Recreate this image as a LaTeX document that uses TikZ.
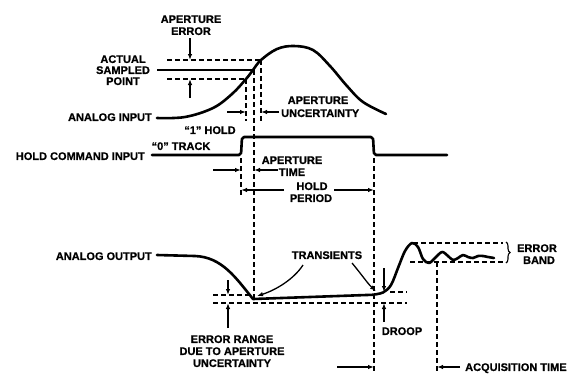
\documentclass[tikz,border=0pt]{standalone}
\usepackage{fontspec}
\setmainfont{Liberation Sans}[BoldFeatures={FakeBold=0.8}]
\usetikzlibrary{arrows.meta,decorations.pathreplacing}
\begin{document}
\begin{tikzpicture}[x=1pt,y=-1pt,
  lbl/.style={font=\fontsize{11}{12}\selectfont\bfseries, inner sep=0pt, text height=7.9pt, text depth=0pt},
  sig/.style={line width=2.6pt, line join=round, line cap=round},
  dsh/.style={line width=1.2pt, dash pattern=on 5pt off 3pt},
  arr/.style={line width=1.3pt, -{Latex[length=6pt,width=4.5pt]}},
  brc/.style={line width=1.1pt, decorate, decoration={brace, amplitude=4pt}}
]
\useasboundingbox (0,0) rectangle (569,373);

% ---------- labels ----------
\node[lbl] (aperr1) at (191,19) {APERTURE};
\node[lbl] (aperr2) at (191,31) {ERROR};
\node[lbl] (asp1) at (123,59) {ACTUAL};
\node[lbl] (asp2) at (123,70) {SAMPLED};
\node[lbl] (asp3) at (123,81) {POINT};
\node[lbl, anchor=east] (ain) at (152,117) {ANALOG INPUT};
\node[lbl] (apu1) at (318,100) {APERTURE};
\node[lbl, anchor=west] (apu2) at (281,113) {UNCERTAINTY};
\node[lbl] (hold1) at (210,130) {“1” HOLD};
\node[lbl] (track) at (181,146) {“0” TRACK};
\node[lbl, anchor=east] (hci) at (145,156) {HOLD COMMAND INPUT};
\node[lbl] (apt1) at (292,160) {APERTURE};
\node[lbl] (apt2) at (292,172) {TIME};
\node[lbl] (hp1) at (312,186) {HOLD};
\node[lbl] (hp2) at (311,198) {PERIOD};
\node[lbl, anchor=east] (aout) at (152,256) {ANALOG OUTPUT};
\node[lbl] (trans) at (327,255) {TRANSIENTS};
\node[lbl] (er1) at (232,339) {ERROR RANGE};
\node[lbl] (er2) at (232,351) {DUE TO APERTURE};
\node[lbl] (er3) at (232,363) {UNCERTAINTY};
\node[lbl] (droop) at (402,331) {DROOP};
\node[lbl] (eb1) at (537,248) {ERROR};
\node[lbl] (eb2) at (539,260) {BAND};
\node[lbl, anchor=west] (acq) at (465,367) {ACQUISITION TIME};

% ---------- analog input ----------
\draw[sig] plot[smooth, tension=0.6] coordinates {(157,118) (185,117) (213,108) (232,94) (246,79) (253,70) (261,60) (277,49) (294,46) (313,50) (330,66) (347,86) (363,102) (386,114)};
\draw[line width=1.4pt] (157,70) -- (253,70);
\draw[dsh] (167,60) -- (261,60);
\draw[dsh] (167,79) -- (246,79);
\draw[dsh] (246,79) -- (246,121);
\draw[dsh] (261,60) -- (261,121);
\draw[dsh] (254,70) -- (254,299);
\draw[arr] (190,38) -- (190,60);
\draw[arr] (190,98) -- (190,79);
\draw[arr] (227,112) -- (246,112);
\draw[arr] (279,112) -- (261,112);

% ---------- hold command ----------
\draw[sig, rounded corners=2pt] (152,155) -- (241,155) -- (242,137) -- (373,137) -- (374,155) -- (447,155);
\draw[dsh] (241,158) -- (241,196);
\draw[dsh] (374,158) -- (374,371);
\draw[arr] (213,170) -- (241,170);
\draw[arr] (278,170) -- (254,170);
\draw[arr] (284,190) -- (241,190);
\draw[arr] (334,190) -- (374,190);

% ---------- analog output ----------
\draw[sig] (157,255) -- (195,256) .. controls (222,257) and (236,278) .. (253,299) -- (372,294.8)
  -- plot[smooth, tension=0.55] coordinates {(372,294.8) (383,292.5) (391,285) (398,268) (405,251) (412,243) (418,247) (423,259) (429,263) (435,258) (442,252) (448,256) (453,260) (458,258) (463,255) (468,257) (473,258) (478,256) (483,256) (488,257) (494,258)};

% error range
\draw[dsh] (213,295) -- (250,295);
\draw[dsh] (213,303) -- (407,303);
\draw[arr] (228,280) -- (228,295);
\draw[arr] (228,328) -- (228,303);

% droop
\draw[dsh] (390,292) -- (407,292);
\draw[arr] (384,268) -- (384,292);
\draw[arr] (384,322) -- (384,303);

% transients
\draw[arr] (303,265) .. controls (294,279) and (276,290) .. (257,296);
\draw[arr] (352,263) .. controls (362,275) and (368,284) .. (376,291);

% error band
\draw[dsh] (413,243) -- (503,243);
\draw[dsh] (410,262) -- (503,262);
\draw[brc] (506,242) -- (506,263);

% acquisition time
\draw[dsh] (437,262) -- (437,371);
\draw[arr] (337,367) -- (374,367);
\draw[arr] (460,367) -- (437,367);
\end{tikzpicture}
\end{document}
